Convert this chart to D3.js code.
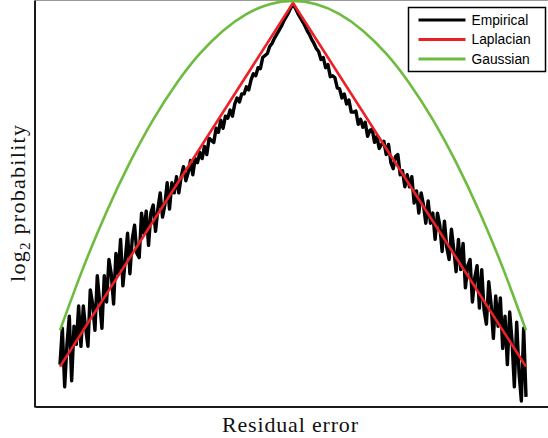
<!DOCTYPE html>
<html lang="en">

<head>
    <meta charset="UTF-8">
    <script src="https://d3js.org/d3.v7.min.js"></script>
    <title>Residual error distribution</title>
    <style>
        body { margin: 0; background: #fff; }
    </style>
</head>

<body>
    <div id="chart"></div>
    <script>
        // residual error bins, -1 .. 1 in steps of 0.01
        const residualBins = d3.range(-100, 101).map(i => i / 100);

        // empirical log2 probability per bin
        const empiricalLog2 = [
            -17.9, -16.1, -19.0, -16.9, -15.5, -18.7, -16.0, -16.9, -15.0, -17.0,
            -15.0, -16.1, -17.0, -14.2, -14.9, -16.2, -13.5, -14.8, -16.1, -13.5,
            -14.8, -12.7, -13.4, -14.9, -12.4, -13.4, -11.7, -14.0, -12.7, -11.4,
            -13.4, -11.7, -11.0, -12.4, -12.6, -10.4, -11.4, -10.3, -12.0, -10.4,
            -10.0, -11.3, -10.2, -9.4, -10.6, -10.0, -8.9, -10.2, -8.9, -9.4,
            -8.6, -9.4, -8.6, -8.1, -8.8, -8.4, -7.8, -8.5, -7.7, -7.9,
            -7.4, -7.7, -7.1, -7.5, -6.7, -6.8, -6.9, -6.2, -6.4, -5.8,
            -6.2, -5.6, -5.7, -5.3, -5.6, -5.0, -4.7, -4.9, -4.5, -4.5,
            -4.15, -4.3, -3.8, -3.5, -3.6, -3.2, -3.25, -2.7, -2.6, -2.5,
            -2.15, -2.0, -1.75, -1.55, -1.35, -1.15, -0.9, -0.7, -0.5, -0.25,
            -0.05,
            -0.25, -0.5, -0.7, -0.9, -1.1, -1.35, -1.55, -1.8, -2.0, -2.25,
            -2.4, -2.8, -2.7, -3.2, -3.05, -3.65, -3.6, -3.7, -4.2, -4.25,
            -4.7, -4.5, -5.0, -4.8, -5.4, -5.4, -5.35, -6.0, -5.75, -6.15,
            -5.9, -6.6, -6.3, -6.25, -6.9, -6.6, -7.2, -7.0, -6.85, -7.5,
            -7.0, -7.9, -8.2, -7.6, -7.5, -8.5, -8.3, -9.1, -8.5, -9.1,
            -8.6, -9.9, -9.3, -10.4, -9.4, -10.0, -10.9, -9.8, -10.9, -10.4,
            -11.7, -10.4, -11.0, -12.3, -10.8, -12.1, -12.7, -11.2, -12.2, -13.3,
            -11.7, -13.2, -11.9, -14.1, -13.0, -12.7, -14.8, -13.6, -13.0, -15.1,
            -13.2, -15.2, -15.9, -13.8, -14.9, -16.6, -14.5, -16.0, -14.6, -17.1,
            -15.5, -17.9, -15.3, -16.7, -19.0, -15.8, -18.3, -19.7, -16.1, -19.5
        ];

        // Laplacian fit
        const laplacianX = [-1, 0, 1];
        const laplacianLog2 = [-18, 0, -18];

        // Gaussian fit
        const gaussianX = [-1, -0.9, -0.8, -0.7, -0.6, -0.5, -0.4, -0.3, -0.2, -0.1, 0,
            0.1, 0.2, 0.3, 0.4, 0.5, 0.6, 0.7, 0.8, 0.9, 1];
        const gaussianLog2 = [-16.2, -13.1, -10.33, -7.89, -5.77, -3.98, -2.51, -1.37, -0.55, -0.06, 0.1,
            -0.06, -0.55, -1.37, -2.51, -3.98, -5.77, -7.89, -10.33, -13.1, -16.2];

        const seriesNames = ["Empirical", "Laplacian", "Gaussian"];
        const seriesColors = ["#000000", "#ee2027", "#6dbb3f"];

        const width = 548, height = 438;

        const x = d3.scaleLinear().domain([-1, 1]).range([60, 526]);
        const y = d3.scaleLinear().domain([-20, 0.15]).range([407, 0]);
        // frame spans the whole plot box, wider than the data
        const xFrame = d3.scaleLinear().domain([x.invert(35), x.invert(548)]).range([35, 548]);

        const svg = d3.select("#chart").append("svg")
            .attr("width", width)
            .attr("height", height)
            .attr("viewBox", [0, 0, width, height]);

        // thin grey top edge of the box
        svg.append("line")
            .attr("x1", xFrame.range()[0]).attr("x2", xFrame.range()[1])
            .attr("y1", 0.5).attr("y2", 0.5)
            .attr("stroke", "#999").attr("stroke-width", 1);

        const line = d3.line()
            .x(d => x(d[0]))
            .y(d => y(d[1]));

        const plot = svg.append("g")
            .attr("fill", "none")
            .attr("stroke-linejoin", "round");

        plot.append("path")
            .datum(d3.zip(residualBins, empiricalLog2))
            .attr("stroke", seriesColors[0])
            .attr("stroke-width", 3.4)
            .attr("d", line);

        plot.append("path")
            .datum(d3.zip(laplacianX, laplacianLog2))
            .attr("stroke", seriesColors[1])
            .attr("stroke-width", 2.6)
            .attr("d", line);

        plot.append("path")
            .datum(d3.zip(gaussianX, gaussianLog2))
            .attr("stroke", seriesColors[2])
            .attr("stroke-width", 2.6)
            .attr("d", line.curve(d3.curveNatural));

        // axes without ticks
        svg.append("g")
            .attr("transform", "translate(34.5,0)")
            .call(d3.axisLeft(y).tickValues([]).tickSizeOuter(0))
            .call(g => g.select(".domain").attr("stroke", "#1a1a1a").attr("stroke-width", 2));

        svg.append("g")
            .attr("transform", "translate(0,406.5)")
            .call(d3.axisBottom(xFrame).tickValues([]).tickSizeOuter(0))
            .call(g => g.select(".domain").attr("stroke", "#1a1a1a").attr("stroke-width", 2));

        // axis labels
        svg.append("text")
            .attr("x", 290)
            .attr("y", 431.5)
            .attr("text-anchor", "middle")
            .attr("font-family", "'Liberation Serif', serif")
            .attr("font-size", 22)
            .attr("textLength", 136)
            .attr("fill", "#111")
            .text("Residual error");

        const yLabel = svg.append("text")
            .attr("transform", "translate(25,203.5) rotate(-90)")
            .attr("text-anchor", "middle")
            .attr("font-family", "'Liberation Serif', serif")
            .attr("font-size", 22)
            .attr("textLength", 157)
            .attr("fill", "#111");
        yLabel.append("tspan").text("log");
        yLabel.append("tspan").attr("font-size", 15).attr("dy", 5).text("2");
        yLabel.append("tspan").attr("dy", -5).text(" probability");

        // legend
        const legend = svg.append("g").attr("transform", "translate(408.5,7.5)");
        legend.append("rect")
            .attr("width", 137).attr("height", 64)
            .attr("fill", "#fff")
            .attr("stroke", "#000").attr("stroke-width", 1.5);

        const item = legend.selectAll("g.item")
            .data(seriesNames)
            .join("g")
            .attr("class", "item")
            .attr("transform", (d, i) => `translate(0,${12.5 + i * 19.5})`);
        item.append("line")
            .attr("x1", 10).attr("x2", 57)
            .attr("stroke", (d, i) => seriesColors[i])
            .attr("stroke-width", 3);
        item.append("text")
            .attr("x", 63)
            .attr("dy", "0.36em")
            .attr("font-family", "'Liberation Sans', Arial, sans-serif")
            .attr("font-size", 13.8)
            .attr("fill", "#000")
            .text(d => d);
    </script>
</body>

</html>
